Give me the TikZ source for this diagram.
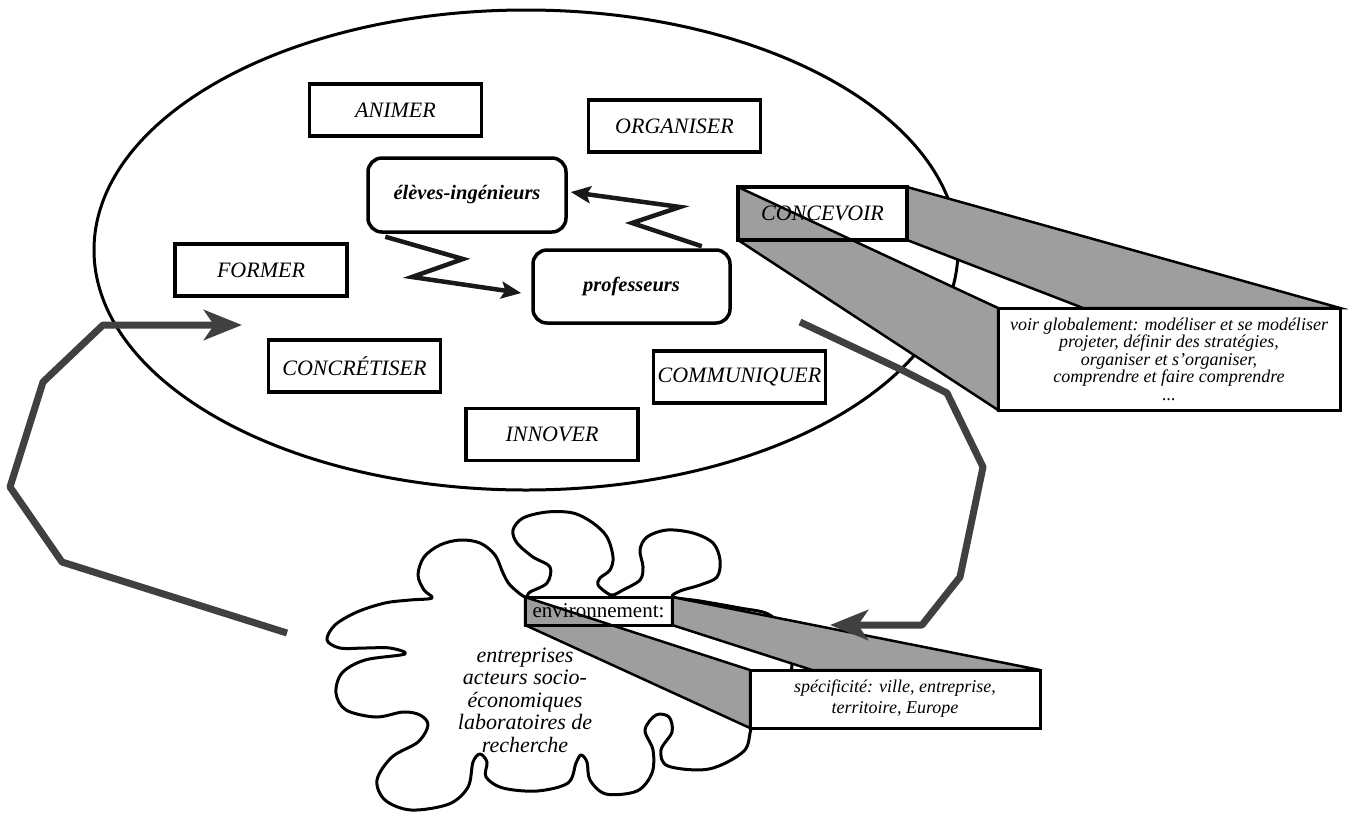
\documentclass[tikz,border=0pt]{standalone}
\usepackage{fontspec}
\setmainfont{Liberation Serif}
\usetikzlibrary{arrows.meta,calc}
\begin{document}
\begin{tikzpicture}[x=1pt,y=-1pt,
  box/.style={draw, line width=3.5pt, fill=white, minimum width=172pt, minimum height=52pt, inner sep=0pt, font=\fontsize{22}{26}\selectfont\itshape},
  rbox/.style={draw, line width=3.5pt, rounded corners=14pt, fill=white, minimum width=198pt, minimum height=74pt, inner sep=0pt, font=\fontsize{20.5}{24}\selectfont\bfseries\itshape},
  face/.style={draw, line width=2.5pt, fill=black!38, line join=miter},
  callbox/.style={draw, line width=3pt, fill=white, inner sep=0pt, align=center, font=\itshape},
  ell/.style={draw, line width=3pt},
  cloudline/.style={draw, line width=3pt, line join=round},
  bigarrow/.style={draw=black!75, line width=7pt, line join=round, -{Stealth[length=38pt,width=30pt,inset=10pt]}},
  zig/.style={draw=black!90, line width=4.5pt, line join=miter, -{Stealth[length=20pt,width=17pt,inset=4pt]}}
]
\useasboundingbox (0,0) rectangle (1348,812);
\fill[white] (0,0) rectangle (1348,812);

% ellipse
\draw[ell] (526,250) ellipse [x radius=432pt, y radius=240pt];

% cloud
\draw[cloudline] plot[smooth cycle, tension=0.55] coordinates {
 (525,597) (510,585) (503,573) (495,555) (480,543) (460,540) (440,545) (424,557) (418,575) (424,590) (432,598)
 (410,600) (385,603) (357,612) (335,625) (327,640) (340,648) (365,648) (390,648) (405,654)
 (365,660) (342,673) (336,693) (346,710) (376,717) (403,712) (420,715)
 (428,725) (418,742) (392,757) (377,780) (385,800) (411,810) (449,804) (468,787) (473,762) (480,754) (487,762)
 (486,777) (503,788) (537,791) (568,783) (576,763) (581,755) (587,762)
 (590,780) (606,794) (637,791) (652,773) (653,750)
 (645,730) (656,715) (669,717) (672,732) (661,750)
 (668,766) (709,769) (744,751) (752,727)
 (768,712) (787,692) (792,660) (787,632) (768,614) (740,608) (700,601) (673,597)
 (680,591) (700,585) (717,577) (720,560) (713,543) (693,533) (667,530) (647,537) (640,550) (643,567) (640,580) (623,590) (613,595)
 (607,593) (598,585) (600,578) (610,570) (613,557) (607,537) (593,523) (573,513) (547,512) (523,518) (513,530) (517,543) (533,557) (550,567) (547,583) (530,592)
};
\node[font=\fontsize{22}{22.5}\selectfont\itshape, align=center] (cloudtext) at (525,700)
 {entreprises\\acteurs socio-\\économiques\\laboratoires de\\recherche};

% callout faces for CONCEVOIR
\draw[face] (738,187) -- (998,308) -- (998,410) -- (738,240) -- cycle;
\draw[face] (907,187) -- (1340,308) -- (1083,308) -- (907,240) -- cycle;
% callout faces for environnement
\draw[face] (525,597) -- (750,670) -- (750,728) -- (525,625) -- cycle;
\draw[face] (672,597) -- (1040,670) -- (812,670) -- (672,625) -- cycle;

% callout boxes
\node[callbox, minimum width=342pt, minimum height=102pt, font=\fontsize{18}{17.5}\selectfont\itshape] (voir) at (1169,359)
 {voir globalement: modéliser et se modéliser\\projeter, définir des stratégies,\\organiser et s’organiser,\\comprendre et faire comprendre\\...};
\node[callbox, minimum width=290pt, minimum height=58pt, font=\fontsize{18}{21}\selectfont\itshape] (spec) at (895,699)
 {spécificité: ville, entreprise,\\territoire, Europe};

\node[draw, line width=3pt, minimum width=147pt, minimum height=28pt, inner sep=0pt, font=\fontsize{21}{24}\selectfont] (env) at (598.5,611) {environnement:};
\node[box, fill=none, minimum width=169pt, minimum height=53pt] (concevoir) at (822.5,213.5) {CONCEVOIR};

% boxes
\node[box] (animer) at (395.5,110) {ANIMER};
\node[box] (organiser) at (674.5,126) {ORGANISER};
\node[box] (former) at (261,270) {FORMER};
\node[box] (concretiser) at (354.5,366) {CONCRÉTISER};
\node[box] (communiquer) at (739.5,377) {COMMUNIQUER};
\node[box] (innover) at (552,434.5) {INNOVER};
\node[rbox] (eleves) at (467,195) {élèves-ingénieurs};
\node[rbox, minimum width=197pt, minimum height=73pt] (prof) at (631.5,286.5) {professeurs};

% zigzag arrows
\coordinate (z1a) at ($(eleves.south west)+(19,3)$);
\coordinate (z1b) at (463,259);
\coordinate (z1c) at (412,277);
\coordinate (z1d) at ($(prof.west)+(-10,6.5)$);
\draw[zig] (z1a) -- (z1b) -- (z1c) -- (z1d);
\coordinate (z2a) at ($(prof.north east)+(-30,-2)$);
\coordinate (z2b) at (632,223);
\coordinate (z2c) at (680,207);
\coordinate (z2d) at ($(eleves.east)+(3,-3)$);
\draw[zig] (z2a) -- (z2b) -- (z2c) -- (z2d);

% big arrows
\coordinate (la) at (287,633);
\coordinate (lb) at (62,562);
\coordinate (lc) at (10,487);
\coordinate (ld) at (43,382);
\coordinate (le) at (103,325);
\coordinate (lf) at (242,325);
\draw[bigarrow] (la) -- (lb) -- (lc) -- (ld) -- (le) -- (lf);

\coordinate (ra) at (800,322);
\coordinate (rb) at (902,370);
\coordinate (rc) at (947,393);
\coordinate (rd) at (983,467);
\coordinate (re) at (960,577);
\coordinate (rf) at (922,625);
\coordinate (rg) at (830,625);
\draw[bigarrow] (ra) -- (rb) -- (rc) -- (rd) -- (re) -- (rf) -- (rg);
\end{tikzpicture}
\end{document}
